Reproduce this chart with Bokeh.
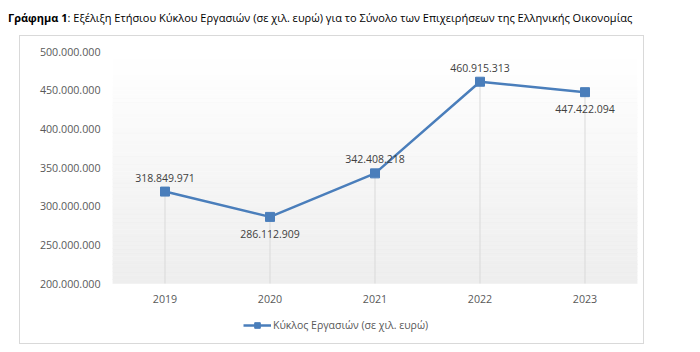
import numpy as np
from bokeh.plotting import figure
from bokeh.layouts import column
from bokeh.models import (ColumnDataSource, FactorRange, Range1d, FixedTicker, LabelSet,
                          Legend, LegendItem, Div)
from bokeh.core.properties import value
from bokeh.embed import file_html
from bokeh.resources import INLINE

years = ["2019", "2020", "2021", "2022", "2023"]
turnover = [318849971, 286112909, 342408218, 460915313, 447422094]
label_side = ["above", "below", "above", "above", "below"]
y_ticks = [200000000, 250000000, 300000000, 350000000, 400000000, 450000000, 500000000]
y_tick_labels = ["200.000.000", "250.000.000", "300.000.000", "350.000.000",
                 "400.000.000", "450.000.000", "500.000.000"]
series_name = "Κύκλος Εργασιών (σε χιλ. ευρώ)"
title_bold = "Γράφημα 1"
title_rest = ": Εξέλιξη Ετήσιου Κύκλου Εργασιών (σε χιλ. ευρώ) για το Σύνολο των Επιχειρήσεων της Ελληνικής Οικονομίας"

FONT = "Open Sans"
BLUE = "#4a7ebb"
GRAY = "#595959"

y_min, y_max = y_ticks[0], y_ticks[-1]

# layout geometry (pixels): plot area 232 px tall for the value range, 57 px below it
# reserved inside the frame for the category labels and the legend
AREA_PX, BELOW_PX = 232, 57
y_low = y_min - (y_max - y_min) * BELOW_PX / AREA_PX

title_div = Div(
    text=('<div style="font-family:\'Open Sans\'; font-size:11px; line-height:36px; '
          'padding-left:8px; white-space:nowrap; color:#000;">'
          f'<b>{title_bold}</b>{title_rest}</div>'),
    width=700, height=36, margin=(0, 0, 0, 0), sizing_mode="fixed")

p = figure(width=623, height=307, x_range=FactorRange(*years, range_padding=0),
           y_range=Range1d(y_low, y_max), output_backend="svg", toolbar_location=None,
           min_border_left=92, min_border_right=6, min_border_top=15, min_border_bottom=3,
           margin=(0, 0, 0, 20), sizing_mode="fixed")
p.styles = {"outline": "1px solid #d9d9d9"}
p.outline_line_color = None
p.background_fill_color = "white"
p.border_fill_color = "white"
p.grid.visible = False

# gradient background (light gray at bottom to white at top)
n = 60
edges = np.linspace(y_min, y_max, n + 1)
cols = []
for i in range(n):
    t = i / (n - 1)
    c = int(round(238 + (255 - 238) * t))
    cols.append("#%02x%02x%02x" % (c, c, c))
src_bg = ColumnDataSource(dict(b=edges[:-1], t=edges[1:], c=cols,
                               l=[(years[0], -0.5)] * n, r=[(years[-1], 0.5)] * n))
p.quad(left="l", right="r", bottom="b", top="t", fill_color="c", line_color="c",
       line_width=0.5, source=src_bg)

src = ColumnDataSource(dict(
    x=years, y=turnover, base=[y_min] * len(years),
    txt=[f"{v:,}".replace(",", ".") for v in turnover],
    off=[14 if s == "above" else -17 for s in label_side]))

# drop lines
p.segment(x0="x", y0="base", x1="x", y1="y", source=src, line_color="#d9d9d9", line_width=1)

r_line = p.line("x", "y", source=src, line_color=BLUE, line_width=2.5)
r_pts = p.scatter("x", "y", source=src, marker="square", size=9, fill_color=BLUE, line_color=BLUE)

p.add_layout(LabelSet(x="x", y="y", text="txt", y_offset="off", source=src,
                      text_align="center", text_baseline="middle",
                      text_font=value(FONT), text_font_size="10.5px", text_color="#404040"))

p.yaxis.ticker = FixedTicker(ticks=y_ticks)
p.yaxis.major_label_overrides = {t: l for t, l in zip(y_ticks, y_tick_labels)}
p.xaxis.fixed_location = y_min
for ax in (p.xaxis, p.yaxis):
    ax.axis_line_color = None
    ax.major_tick_line_color = None
    ax.minor_tick_line_color = None
    ax.major_label_text_font = FONT
    ax.major_label_text_font_size = "10.7px"
    ax.major_label_text_color = GRAY
p.yaxis.major_label_standoff = 6
p.xaxis.major_label_standoff = 5

legend = Legend(items=[LegendItem(label=series_name, renderers=[r_line, r_pts])],
                location=(131, 8), orientation="horizontal",
                label_text_font=FONT, label_text_font_size="10.5px", label_text_color=GRAY,
                glyph_width=28, glyph_height=14, label_standoff=2, padding=0, margin=0,
                border_line_color=None, background_fill_alpha=0)
p.add_layout(legend, "center")

layout = column(title_div, p, sizing_mode="fixed")
open("out.html", "w").write(file_html(layout, INLINE))
